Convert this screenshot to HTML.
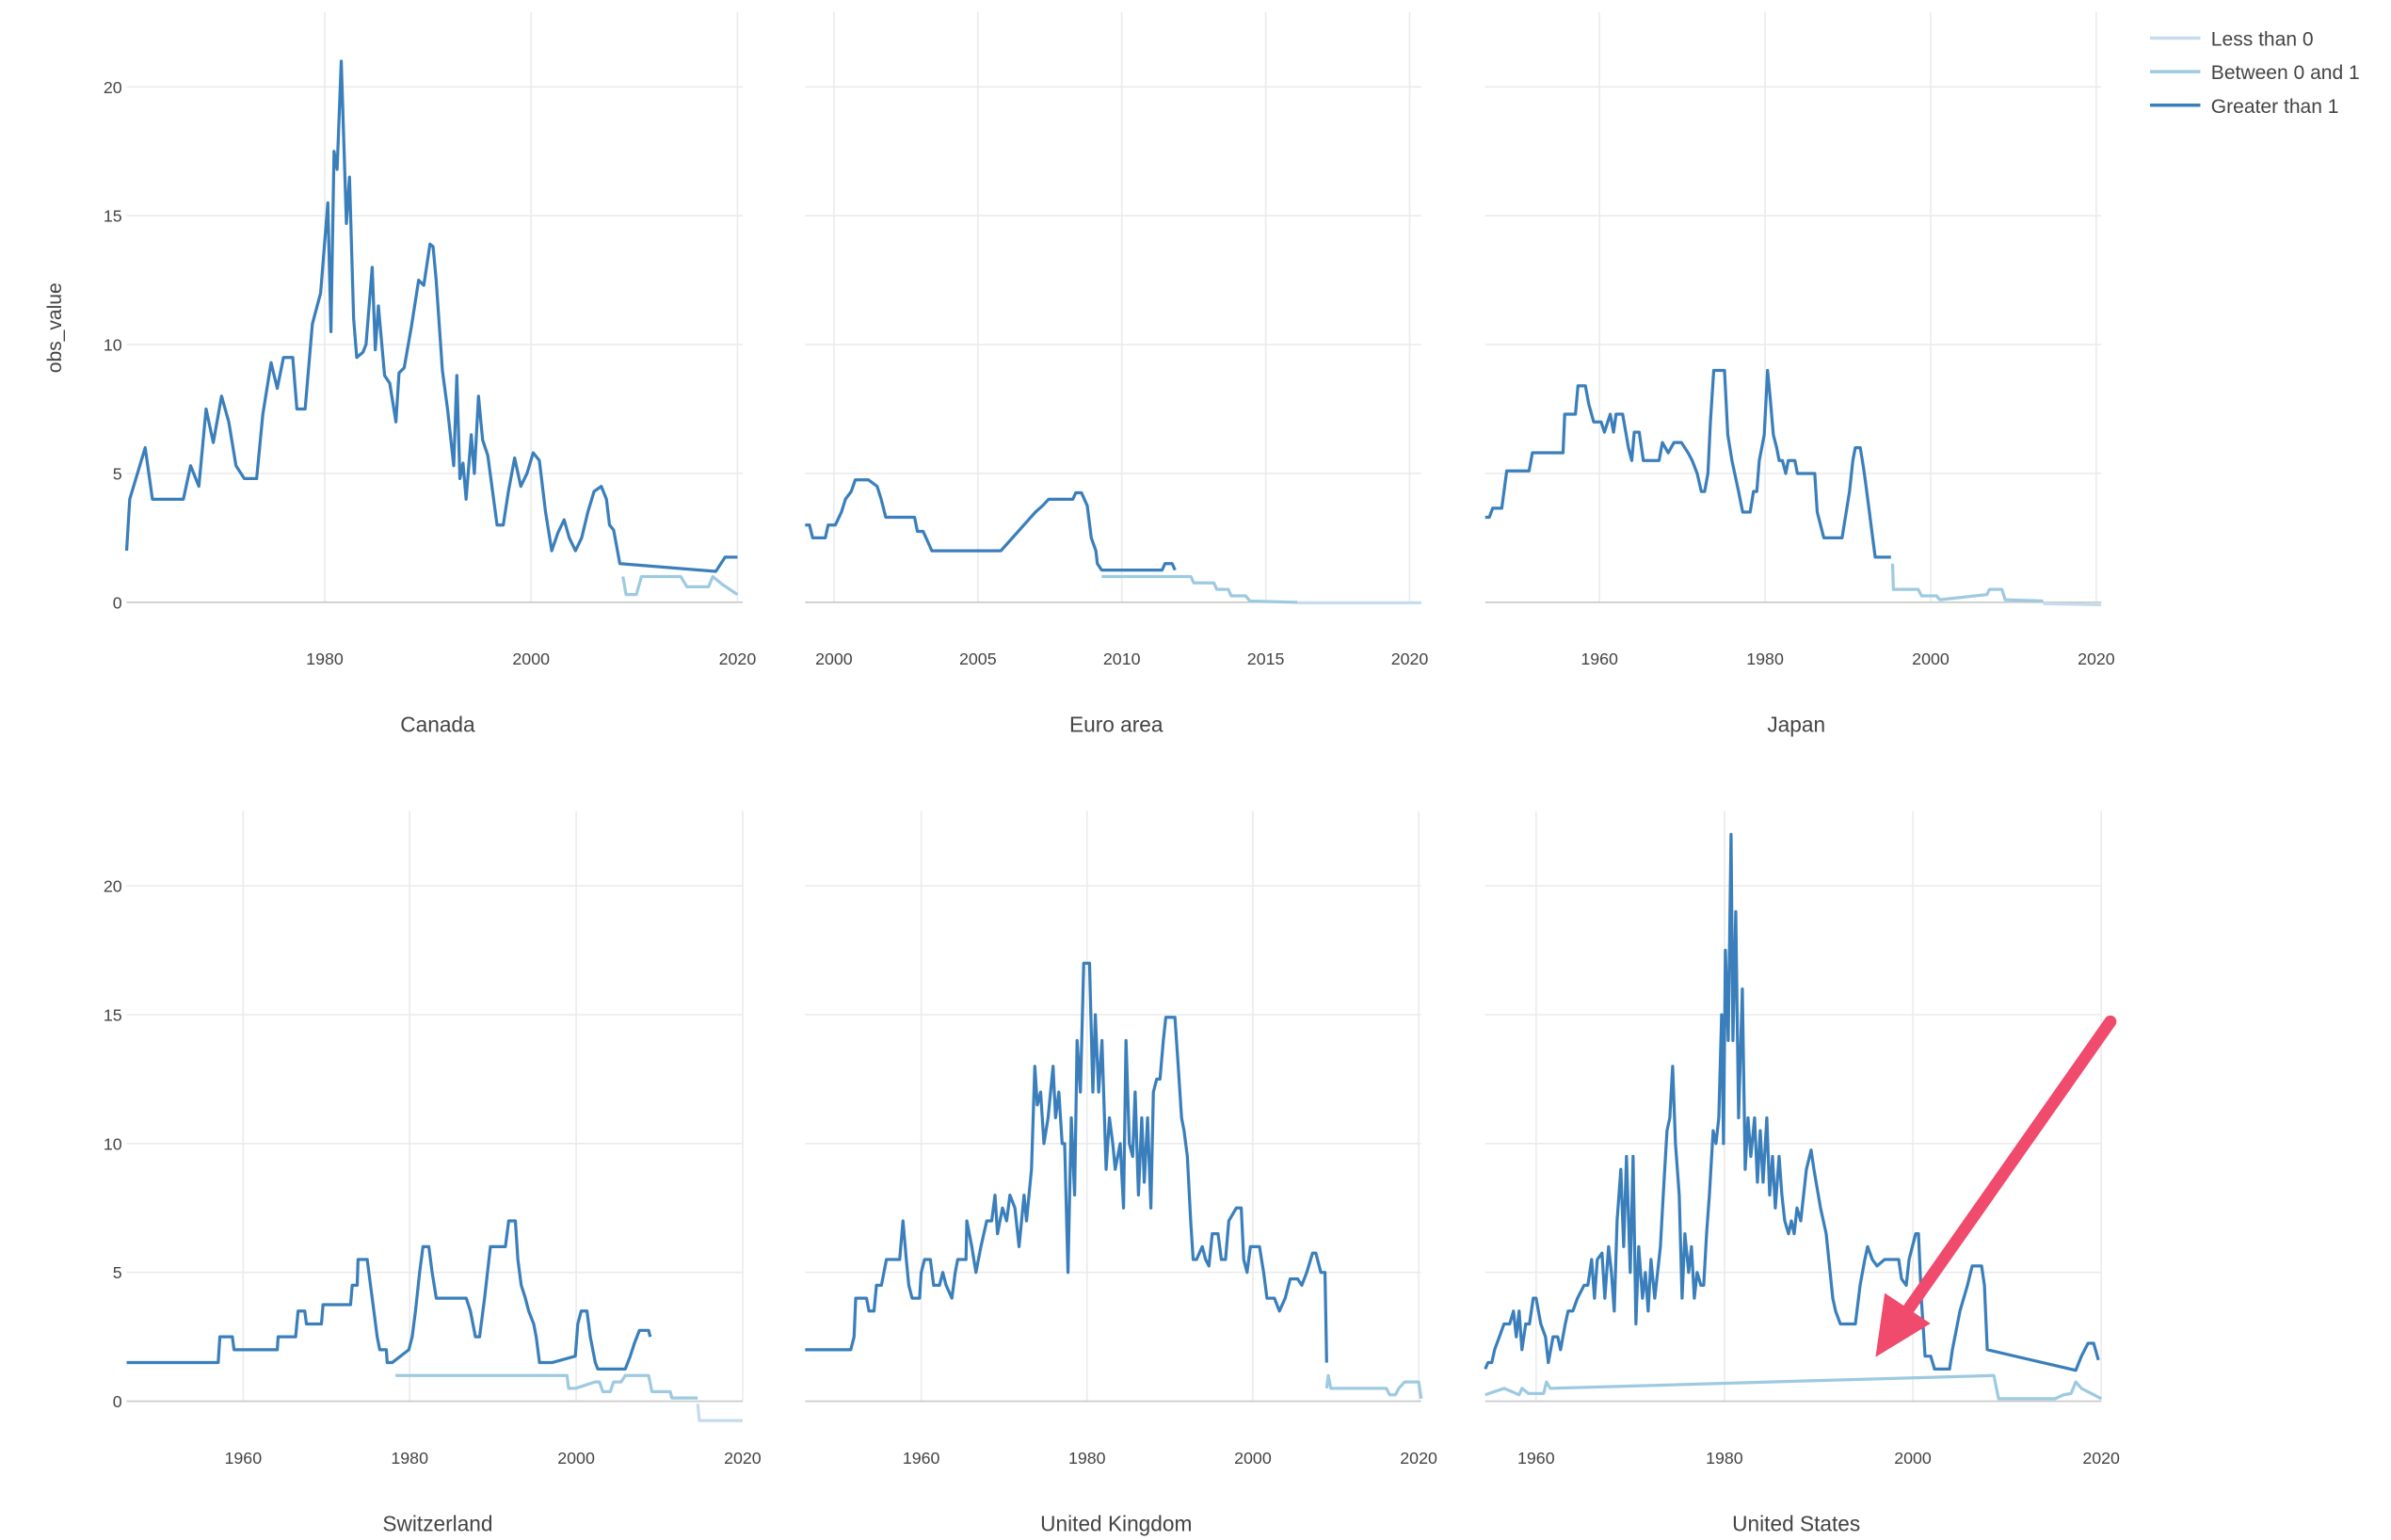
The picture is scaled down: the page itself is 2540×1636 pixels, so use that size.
<!DOCTYPE html>
<html><head><meta charset="utf-8"><style>
html,body{margin:0;padding:0;background:#fff;}
svg{display:block;font-family:"Liberation Sans",sans-serif;}
</style></head><body>
<svg id="chart" width="2540" height="1636" viewBox="0 0 1568 1010" xmlns="http://www.w3.org/2000/svg">
<text x="40" y="215" transform="rotate(-90 40 215)" text-anchor="middle" font-size="13" fill="#444">obs_value</text>
<g>
<line x1="1410" y1="25" x2="1443" y2="25" stroke="#c6dbef" stroke-width="2.2"/><text x="1450" y="30" font-size="13" fill="#444">Less than 0</text>
<line x1="1410" y1="47" x2="1443" y2="47" stroke="#9ecae1" stroke-width="2.2"/><text x="1450" y="52" font-size="13" fill="#444">Between 0 and 1</text>
<line x1="1410" y1="69" x2="1443" y2="69" stroke="#3a7fbb" stroke-width="2.2"/><text x="1450" y="74" font-size="13" fill="#444">Greater than 1</text>
</g>
<g id="panels"></g>
<g>
<line x1="1384" y1="670" x2="1252" y2="858" stroke="#f04a6c" stroke-width="8" stroke-linecap="round"/>
<polygon points="1230,890 1236,848 1266,868" fill="#f04a6c"/>
</g>
</svg>
<script>
const panelNames=["Canada","Euro area","Japan","Switzerland","United Kingdom","United States"];
const yTicks=[0,5,10,15,20];
const xTicksCanada=[1980,2000,2020];
const xTicksEuro=[2000,2005,2010,2015,2020];
const xTicksLong=[1960,1980,2000,2020];
const xDomains=[[1960.8,2020.5],[1999.0,2020.4],[1946.2,2020.6],[1946.0,2020.0],[1946.0,2020.3],[1954.6,2020.0]];

const canYears=[1960.8,1961.1,1962.6,1963.3,1966.3,1967,1967.8,1968.5,1969.2,1970,1970.7,1971.4,1972.2,1973.4,1974,1974.8,1975.4,1976,1976.9,1977.3,1978.1,1978.8,1979.6,1980,1980.3,1980.6,1980.9,1981.2,1981.6,1982.1,1982.4,1982.8,1983.1,1983.7,1984,1984.6,1984.9,1985.2,1985.8,1986.3,1986.9,1987.2,1987.7,1988.4,1989.1,1989.6,1990.2,1990.5,1990.8,1991.4,1991.9,1992.5,1992.8,1993.1,1993.4,1993.7,1994.2,1994.5,1994.9,1995.3,1995.8,1996.2,1996.7,1997.3,1997.8,1998.4,1999,1999.6,2000.2,2000.8,2001.1,2001.4,2002,2002.6,2003.2,2003.7,2004.3,2004.9,2005.5,2006.1,2006.8,2007.3,2007.6,2008,2008.6,2017.9,2018.8,2020];
const canValues=[2,4,6,4,4,5.3,4.5,7.5,6.2,8,7,5.3,4.8,4.8,7.3,9.3,8.3,9.5,9.5,7.5,7.5,10.8,12,14,15.5,10.5,17.5,16.8,21,14.7,16.5,11,9.5,9.7,10,13,9.8,11.5,8.8,8.5,7,8.9,9.1,10.7,12.5,12.3,13.9,13.8,12.5,9,7.5,5.3,8.8,4.8,5.4,4,6.5,5,8,6.3,5.7,4.5,3,3,4.3,5.6,4.5,5,5.8,5.5,4.5,3.5,2,2.7,3.2,2.5,2,2.5,3.5,4.3,4.5,4,3,2.8,1.5,1.2,1.75,1.75];
const canMidYears=[2008.9,2009.2,2010.2,2010.7,2014.5,2015.1,2017.2,2017.6,2018.5,2020];
const canMidValues=[1,0.3,0.3,1,1,0.6,0.6,1,0.7,0.3];

const euYears=[1999.0,1999.15,1999.26,1999.7,1999.8,2000.05,2000.26,2000.4,2000.6,2000.74,2001.2,2001.5,2001.64,2001.8,2002.8,2002.9,2003.1,2003.2,2003.4,2005.8,2006,2006.2,2006.4,2006.6,2006.8,2007,2007.25,2007.46,2008.3,2008.4,2008.6,2008.8,2008.94,2009.1,2009.15,2009.3,2011.4,2011.5,2011.75,2011.85];
const euValues=[3,3,2.5,2.5,3,3,3.5,4,4.3,4.75,4.75,4.5,4,3.3,3.3,2.75,2.75,2.5,2,2,2.25,2.5,2.75,3,3.25,3.5,3.75,4,4,4.25,4.25,3.75,2.5,2,1.5,1.25,1.25,1.5,1.5,1.25];
const euMidYears=[2009.3,2012.4,2012.5,2013.2,2013.3,2013.7,2013.8,2014.3,2014.45,2016.1];
const euMidValues=[1,1,0.75,0.75,0.5,0.5,0.25,0.25,0.05,0];
const euLowYears=[2016.1,2020.4];
const euLowValues=[-0.02,-0.02];

const jpYears=[1946.2,1946.7,1947.1,1948.2,1948.8,1951.5,1951.9,1955.6,1955.8,1957.1,1957.4,1958.3,1958.7,1959.3,1960.2,1960.6,1961.3,1961.7,1962,1962.8,1963.5,1963.9,1964.2,1964.8,1965.3,1967.2,1967.6,1968.3,1969,1969.9,1970.7,1971.2,1971.8,1972.3,1972.7,1973.1,1973.4,1973.8,1975.1,1975.5,1976,1976.8,1977.3,1978.2,1978.6,1979,1979.3,1979.9,1980.3,1980.6,1981,1981.4,1981.7,1982.1,1982.5,1982.8,1983.6,1983.9,1986,1986.3,1986.7,1987.1,1989.3,1989.7,1990.2,1990.6,1990.9,1991.5,1991.9,1992.2,1992.6,1993,1993.3,1993.9,1995.2];
const jpValues=[3.3,3.3,3.65,3.65,5.1,5.1,5.8,5.8,7.3,7.3,8.4,8.4,7.7,7,7,6.6,7.3,6.6,7.3,7.3,6,5.5,6.6,6.6,5.5,5.5,6.2,5.8,6.2,6.2,5.8,5.5,5,4.3,4.3,5,7,9,9,6.5,5.5,4.3,3.5,3.5,4.3,4.3,5.5,6.5,9,8,6.5,6,5.5,5.5,5,5.5,5.5,5,5,3.5,3,2.5,2.5,3.3,4.3,5.5,6,6,5.2,4.5,3.5,2.5,1.75,1.75,1.75];
const jpMidYears=[1995.4,1995.5,1998.5,1998.9,2000.7,2001.1,2006.8,2007.1,2008.6,2009,2013.6];
const jpMidValues=[1.5,0.5,0.5,0.25,0.25,0.1,0.3,0.5,0.5,0.1,0.05];
const jpLowYears=[2013.6,2020.6];
const jpLowValues=[-0.05,-0.1];

const chYears=[1946,1957,1957.2,1958.7,1958.9,1964.1,1964.2,1966.3,1966.6,1967.4,1967.6,1969.4,1969.6,1972.9,1973.1,1973.7,1973.8,1974.9,1975.3,1975.7,1976.1,1976.4,1977.2,1977.3,1977.9,1979.9,1980.3,1980.7,1981.2,1981.6,1982.3,1982.7,1983.2,1986.8,1987.3,1987.9,1988.4,1989,1989.7,1991.5,1991.9,1992.7,1993,1993.4,1993.9,1994.3,1994.9,1995.2,1995.6,1997.1,1999.9,2000.2,2000.6,2001.3,2001.7,2002.3,2002.6,2005.9,2006.5,2007,2007.6,2008.7,2008.9];
const chValues=[1.5,1.5,2.5,2.5,2,2,2.5,2.5,3.5,3.5,3,3,3.75,3.75,4.5,4.5,5.5,5.5,4.5,3.5,2.5,2,2,1.5,1.5,2,2.5,3.5,5,6,6,5,4,4,3.5,2.5,2.5,4,6,6,7,7,5.5,4.5,4,3.5,3,2.5,1.5,1.5,1.75,3,3.5,3.5,2.5,1.5,1.25,1.25,1.75,2.25,2.75,2.75,2.5];
const chMidYears=[1978.3,1998.9,1999.1,1999.9,2002.3,2002.8,2003.2,2004.1,2004.5,2005.4,2005.9,2008.7,2009.1,2011.3,2011.5,2014.6];
const chMidValues=[1,1,0.5,0.5,0.75,0.75,0.375,0.375,0.75,0.75,1,1,0.375,0.375,0.125,0.125];
const chLowYears=[2014.6,2014.8,2020];
const chLowValues=[-0.1,-0.75,-0.75];

const ukYears=[1946,1951.5,1951.9,1952.1,1953.4,1953.7,1954.3,1954.6,1955.2,1955.8,1957.4,1957.8,1958.2,1958.5,1958.9,1959.8,1960,1960.4,1961.1,1961.5,1962.2,1962.6,1963,1963.7,1964.1,1964.4,1965.4,1965.5,1966.1,1966.6,1967.2,1967.9,1968.5,1968.9,1969.2,1969.8,1970.3,1970.7,1971.3,1971.8,1972.4,1972.7,1973.3,1973.7,1974,1974.4,1974.8,1975.3,1975.9,1976.2,1976.6,1977,1977.3,1977.7,1978.1,1978.5,1978.8,1979.2,1979.6,1980.3,1980.7,1981,1981.4,1981.8,1982.3,1982.7,1983.1,1983.4,1984,1984.4,1984.7,1985.1,1985.5,1985.8,1986.2,1986.6,1986.9,1987.3,1987.7,1988,1988.4,1988.8,1989.2,1989.5,1990.6,1991,1991.4,1991.7,1992.1,1992.5,1992.8,1993.2,1993.9,1994.3,1994.7,1995.1,1995.8,1996.2,1996.7,1997.1,1998,1998.6,1998.9,1999.3,1999.7,2000.8,2001.3,2001.7,2002.6,2003.2,2003.9,2004.5,2005.4,2005.9,2006.5,2007.2,2007.6,2008.2,2008.7,2008.9];
const ukValues=[2,2,2.5,4,4,3.5,3.5,4.5,4.5,5.5,5.5,7,5.5,4.5,4,4,5,5.5,5.5,4.5,4.5,5,4.5,4,5,5.5,5.5,7,6,5,6,7,7,8,6.5,7.5,7,8,7.5,6,8,7,9,13,11.5,12,10,11,13,11,12,10,10,5,11,8,14,12,17,17,12,15,12,14,9,11,10,9,10,7.5,14,10,9.5,12,8,11,8.5,11,7.5,12,12.5,12.5,14,14.9,14.9,13,11,10.5,9.5,7,5.5,5.5,6,5.5,5.25,6.5,6.5,5.5,5.5,7,7.5,7.5,5.5,5,6,6,5,4,4,3.5,4,4.75,4.75,4.5,5,5.75,5.75,5,5,1.5];
const ukMidYears=[2008.9,2009.1,2009.4,2016.1,2016.5,2017.2,2017.6,2018.3,2020,2020.3];
const ukMidValues=[0.5,1,0.5,0.5,0.25,0.25,0.5,0.75,0.75,0.1];

const usYears=[1954.6,1954.9,1955.3,1955.6,1956.1,1956.6,1957.2,1957.6,1957.9,1958.2,1958.5,1958.9,1959.3,1959.7,1960,1960.5,1961,1961.3,1961.8,1962.3,1962.6,1963.1,1963.4,1963.9,1964.4,1965.1,1965.5,1965.9,1966.2,1966.5,1967,1967.3,1967.7,1968,1968.3,1968.6,1969,1969.3,1969.6,1970,1970.3,1970.6,1970.9,1971.3,1971.6,1971.9,1972.2,1972.6,1972.9,1973.2,1973.5,1973.9,1974.2,1974.5,1974.8,1975.2,1975.5,1975.8,1976.2,1976.5,1976.8,1977.1,1977.5,1977.8,1978.1,1978.4,1978.8,1979.1,1979.4,1979.7,1979.9,1980.1,1980.4,1980.7,1980.9,1981.2,1981.5,1981.9,1982.2,1982.5,1982.8,1983.2,1983.5,1983.8,1984.1,1984.5,1984.8,1985.1,1985.4,1985.8,1986.1,1986.4,1986.8,1987.1,1987.4,1987.7,1988.1,1988.4,1988.7,1989.2,1989.5,1990.2,1990.8,1991.5,1991.8,1992.3,1993.9,1994.4,1994.9,1995.2,1995.7,1996.2,1997,1998.5,1998.8,1999.3,1999.6,2000.3,2000.6,2000.9,2001.3,2001.9,2002.3,2003.9,2004.2,2005,2005.8,2006.3,2007.3,2007.6,2007.9,2017.3,2017.9,2018.6,2019.2,2019.7];
const usValues=[1.25,1.5,1.5,2,2.5,3,3,3.5,2.5,3.5,2,3,3,4,4,3,2.5,1.5,2.5,2.5,2,3,3.5,3.5,4,4.5,4.5,5.5,4,5.5,5.75,4,6,5,3.5,7,9,6,9.5,5,9.5,3,6,4,5,3.5,5.5,4,5,6,8,10.5,11,13,10,8,4,6.5,5,6,4,5,4.5,4.5,6.5,8,10.5,10,11,15,10,17.5,14,22,14,19,11,16,9,11,9.5,11,8.5,10.5,8.5,11,8,9.5,7.5,9.5,8,7,6.5,7,6.5,7.5,7,8,9,9.75,9,7.5,6.5,4,3.5,3,3,4.5,5.5,6,5.5,5.25,5.5,5.5,4.75,4.5,5.5,6.5,6.5,4,1.75,1.75,1.25,1.25,2,3.5,4.5,5.25,5.25,4.5,2,1.2,1.75,2.25,2.25,1.6];
const usMidYears=[1954.6,1956.6,1958.2,1958.5,1959.2,1960.8,1961.1,1961.5,2008.6,2009.1,2015.1,2016,2016.8,2017.3,2017.9,2020];
const usMidValues=[0.25,0.5,0.25,0.5,0.3,0.3,0.75,0.5,1.0,0.1,0.1,0.25,0.3,0.75,0.5,0.1];

const series=[
 [[canYears,canValues,"#3a7fbb","greater-than-1"],[canMidYears,canMidValues,"#9ecae1","between-0-and-1"]],
 [[euYears,euValues,"#3a7fbb","greater-than-1"],[euMidYears,euMidValues,"#9ecae1","between-0-and-1"],[euLowYears,euLowValues,"#c6dbef","less-than-0"]],
 [[jpYears,jpValues,"#3a7fbb","greater-than-1"],[jpMidYears,jpMidValues,"#9ecae1","between-0-and-1"],[jpLowYears,jpLowValues,"#c6dbef","less-than-0"]],
 [[chYears,chValues,"#3a7fbb","greater-than-1"],[chMidYears,chMidValues,"#9ecae1","between-0-and-1"],[chLowYears,chLowValues,"#c6dbef","less-than-0"]],
 [[ukYears,ukValues,"#3a7fbb","greater-than-1"],[ukMidYears,ukMidValues,"#9ecae1","between-0-and-1"]],
 [[usYears,usValues,"#3a7fbb","greater-than-1"],[usMidYears,usMidValues,"#9ecae1","between-0-and-1"]]
];
const xTickSets=[xTicksCanada,xTicksEuro,xTicksLong,xTicksLong,xTicksLong,xTicksLong];

const NS="http://www.w3.org/2000/svg";
const root=document.getElementById("panels");
const colX=[83,528,974], plotW=404, plotTop=[8,532], zeroY=[395,919], pxPerUnit=16.9;
function mk(tag,attrs,parent){const e=document.createElementNS(NS,tag);for(const k in attrs)e.setAttribute(k,attrs[k]);parent.appendChild(e);return e;}
panelNames.forEach((name,i)=>{
  const col=i%3,row=Math.floor(i/3);
  const x0=colX[col],x1=x0+plotW,y0=zeroY[row],yt=plotTop[row];
  const dom=xDomains[i];
  const sx=v=>x0+(v-dom[0])/(dom[1]-dom[0])*plotW;
  const sy=v=>y0-v*pxPerUnit;
  const slug=name.toLowerCase().replace(/ /g,'-');
  const g=mk("g",{},root);
  
  
  xTickSets[i].forEach(t=>{
    const l=mk("line",{x1:sx(t),x2:sx(t),y1:yt,y2:y0,stroke:"#ebebeb","stroke-width":1},g);
    
    
    const tx=mk("text",{x:sx(t),y:y0+41,"text-anchor":"middle","font-size":11,fill:"#444"},g);
    tx.textContent=t;
    
    
  });
  yTicks.forEach(t=>{
    const l=mk("line",{x1:x0,x2:x1,y1:sy(t),y2:sy(t),stroke:t===0?"#c8c8c8":"#ebebeb","stroke-width":1},g);
    
    
    if(col===0){
      const tx=mk("text",{x:x0-3,y:sy(t)+4,"text-anchor":"end","font-size":11,fill:"#444"},g);
      tx.textContent=t;
      
      
    }
  });
  series[i].slice().reverse().forEach(s=>{
    const [xs,ys,color,key]=s;
    const pts=xs.map((x,j)=>sx(x).toFixed(2)+","+sy(ys[j]).toFixed(2)).join(" ");
    const p=mk("polyline",{points:pts,fill:"none",stroke:color,"stroke-width":2,"stroke-linejoin":"round"},g);
    
    
  });
  const tt=mk("text",{x:(x0+x1)/2+2,y:y0+85,"text-anchor":"middle","font-size":14,fill:"#444"},g);
  tt.textContent=name;
  
  
});
</script>
</body></html>
